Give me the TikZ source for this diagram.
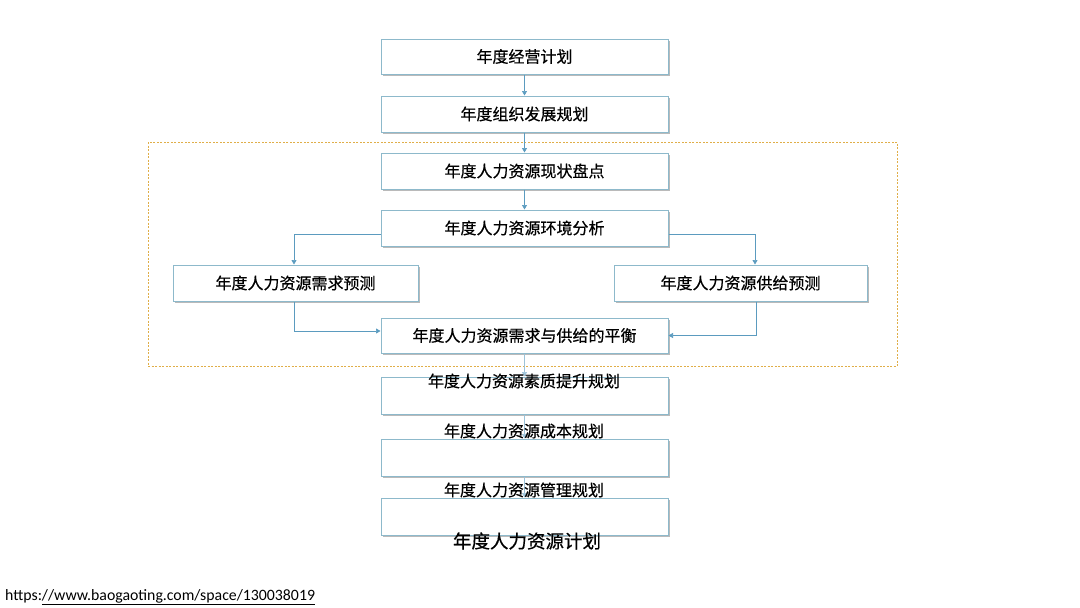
\documentclass[tikz,border=0pt]{standalone}
\usepackage{fontspec}
\newfontfamily\cjk[FakeBold=0.5]{Noto Sans CJK SC}
\newfontfamily\urlfont{Carlito}
\usetikzlibrary{shadows,arrows.meta}
\definecolor{boxline}{HTML}{8DB9CB}
\definecolor{arrowc}{HTML}{5B9BBF}
\definecolor{dashc}{HTML}{E0AE48}
\begin{document}
\begin{tikzpicture}[x=1pt,y=-1pt,
  box/.style={draw=boxline,line width=1pt,fill=white,minimum width=287pt,minimum height=36pt,inner sep=0pt,
    font=\cjk\fontsize{16}{16}\selectfont,
    drop shadow={shadow xshift=1.5pt,shadow yshift=-2pt,fill=black!45,opacity=0.6}},
  lbl/.style={inner sep=0pt,font=\cjk\fontsize{16}{16}\selectfont},
  conn/.style={draw=arrowc,line width=0.7pt,-{Triangle[width=5pt,length=4.5pt]}},
  faint/.style={draw=arrowc!60,line width=0.6pt,-{Triangle[width=5pt,length=4.5pt]}}]
\useasboundingbox (0,0) rectangle (1080,608);
\node[draw=dashc,line width=0.7pt,dash pattern=on 2pt off 1.5pt,minimum width=749pt,minimum height=224pt,inner sep=0pt] (grp) at (522.5,254) {};
\node[box,minimum height=35pt] (b1) at (524.5,56.5) {年度经营计划};
\node[box] (b2) at (524.5,114) {年度组织发展规划};
\node[box] (b3) at (524.5,171) {年度人力资源现状盘点};
\node[box] (b4) at (524.5,228) {年度人力资源环境分析};
\node[box,minimum width=245pt] (b5) at (295.5,283) {年度人力资源需求预测};
\node[box,minimum width=253pt] (b6) at (740.5,283) {年度人力资源供给预测};
\node[box,minimum height=35pt] (b7) at (524.5,335.5) {年度人力资源需求与供给的平衡};
\node[box,minimum height=37pt] (b8) at (524.5,395.5) {};
\node[box,minimum height=37pt] (b9) at (524.5,457.5) {};
\node[box,minimum height=37pt] (b10) at (524.5,516.5) {};
\draw[conn] (b1.south) -- (b2.north);
\draw[conn] (b2.south) -- (b3.north);
\draw[conn] (b3.south) -- (b4.north);
\draw[conn] ([yshift=-6pt]b4.west) -| ([xshift=-1.5pt]b5.north);
\draw[conn] ([yshift=-6pt]b4.east) -| ([xshift=14.5pt]b6.north);
\draw[conn] ([xshift=-1.5pt]b5.south) |- ([yshift=4.5pt]b7.west);
\draw[conn] ([xshift=16pt]b6.south) |- (b7.east);
\draw[faint] (b7.south) -- (b8.north);
\draw[faint] (b8.south) -- (b9.north);
\draw[faint] (b9.south) -- (b10.north);
\node[lbl] (t8) at (524,381) {年度人力资源素质提升规划};
\node[lbl] (t9) at (524,431) {年度人力资源成本规划};
\node[lbl] (t10) at (524,490) {年度人力资源管理规划};
\node[lbl,font=\cjk\fontsize{18.5}{18.5}\selectfont] (t11) at (527,541) {年度人力资源计划};
\node[anchor=west,inner sep=0pt,font=\urlfont\fontsize{15.8}{15.8}\selectfont] (url) at (5,597) {https:\underline{//www.baogaoting.com/space/130038019}};
\end{tikzpicture}
\end{document}
